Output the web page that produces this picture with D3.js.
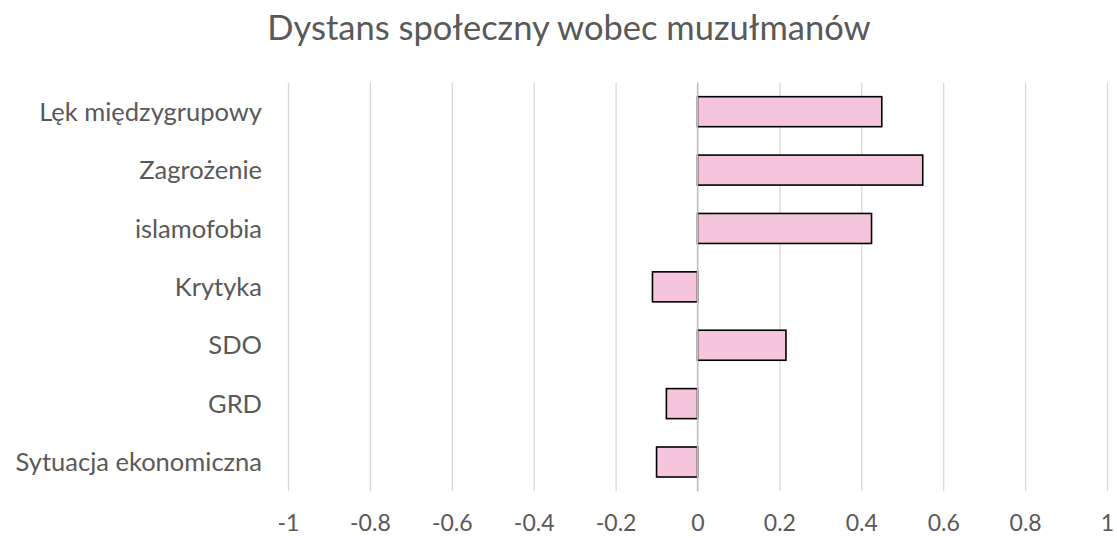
<!DOCTYPE html>
<html><head><meta charset="utf-8">
<script src="https://cdn.jsdelivr.net/npm/d3@7"></script>
<style>body{margin:0;background:#fff}svg{display:block}text{font-family:Lato,"Open Sans",sans-serif;fill:#595959}</style>
</head><body>
<script>
const title = "Dystans społeczny wobec muzułmanów";
const categories = ["Lęk międzygrupowy","Zagrożenie","islamofobia","Krytyka","SDO","GRD","Sytuacja ekonomiczna"];
const values = [0.45, 0.55, 0.425, -0.11, 0.216, -0.076, -0.10];
const tickValues = [-1,-0.8,-0.6,-0.4,-0.2,0,0.2,0.4,0.6,0.8,1];

const W=1117,H=538;
const svg=d3.select("body").append("svg").attr("width",W).attr("height",H);
const x=d3.scaleLinear().domain([-1,1]).range([288,1107]);
const y=d3.scaleBand().domain(categories).range([82.5,491.2]).paddingInner(0.486).paddingOuter(0.243);

svg.append("text").attr("x",569).attr("y",40).attr("text-anchor","middle").style("font-size","34.5px").text(title);

const xAxis=svg.append("g").attr("transform","translate(0,491.2)")
  .call(d3.axisBottom(x).tickValues(tickValues).tickSize(-(491.2-82.5)).tickFormat(d=>String(d)));
xAxis.select(".domain").remove();
xAxis.selectAll("line").attr("stroke","#d9d9d9").attr("stroke-width",1.3);
xAxis.selectAll("text").attr("y",40).attr("dy",null).style("font-size","23px").attr("fill","#595959").style("font-family","Lato,sans-serif");

svg.selectAll("rect.bar").data(categories).join("rect").attr("class","bar")
  .attr("x",(d,i)=>x(Math.min(0,values[i])))
  .attr("width",(d,i)=>Math.abs(x(values[i])-x(0)))
  .attr("y",d=>y(d)).attr("height",y.bandwidth())
  .attr("fill","#f5c5dc").attr("stroke","#000").attr("stroke-width",1.6);

svg.append("line").attr("x1",x(0)).attr("x2",x(0)).attr("y1",82.5).attr("y2",491.2).attr("stroke","#bfbfbf").attr("stroke-width",1.3);

const yAxis=svg.append("g").attr("transform","translate(288,0)")
  .call(d3.axisLeft(y).tickSize(0).tickPadding(26));
yAxis.select(".domain").remove();
yAxis.selectAll("text").attr("dy","0.36em").style("font-size","25.5px").attr("fill","#595959").style("font-family","Lato,sans-serif");
</script>
</body></html>
